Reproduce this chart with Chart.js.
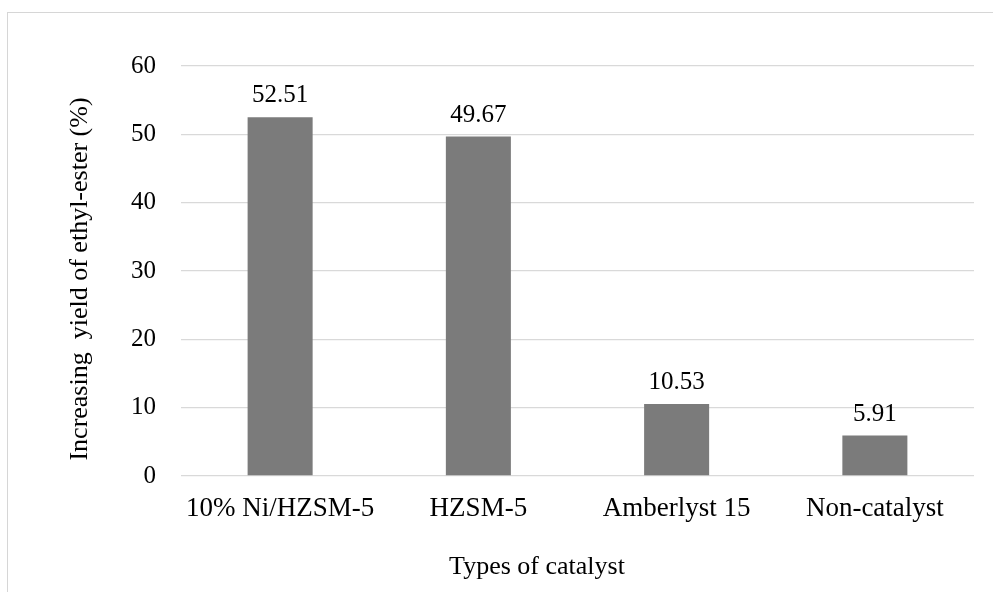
<!DOCTYPE html>
<html>
<head>
<meta charset="utf-8">
<script src="https://cdn.jsdelivr.net/npm/chart.js@4/dist/chart.umd.min.js"></script>
<style>
  html, body { margin: 0; padding: 0; background: #ffffff; }
  #wrap { position: relative; width: 993px; height: 592px; }
  #frame { position: absolute; left: 7px; top: 12px; width: 1000px; height: 600px;
           border: 1px solid #d6d6d6; box-sizing: border-box; }
  canvas { position: absolute; left: 0; top: 0; }
</style>
</head>
<body>
<div id="wrap">
  <div id="frame"></div>
  <canvas id="c" width="993" height="592"></canvas>
</div>
<script>
// Catalyst categories and the yield increase for each
const categories = ['10% Ni/HZSM-5', 'HZSM-5', 'Amberlyst 15', 'Non-catalyst'];
const yieldIncrease = [52.51, 49.67, 10.53, 5.91];
const yTicks = [0, 10, 20, 30, 40, 50, 60];

const yTitle = 'Increasing  yield of ethyl-ester (%)';
const xTitle = 'Types of catalyst';

const SERIF = '"Liberation Serif", "Times New Roman", serif';

// Value labels above each bar plus the two axis titles
const annotate = {
  id: 'annotate',
  afterDatasetsDraw(chart) {
    const ctx = chart.ctx;
    const meta = chart.getDatasetMeta(0);
    ctx.save();
    ctx.fillStyle = '#000';
    ctx.font = '25px ' + SERIF;
    ctx.textAlign = 'center';
    ctx.textBaseline = 'alphabetic';
    meta.data.forEach((bar, i) => {
      ctx.fillText(yieldIncrease[i].toFixed(2), bar.x, bar.y - 15);
    });

    ctx.font = '26px ' + SERIF;
    ctx.textBaseline = 'middle';
    ctx.fillText(xTitle, 537, 567);

    ctx.translate(80, 279);
    ctx.rotate(-Math.PI / 2);
    ctx.fillText(yTitle, 0, 0);
    ctx.restore();
  }
};

new Chart(document.getElementById('c'), {
  type: 'bar',
  data: {
    labels: categories,
    datasets: [{
      data: yieldIncrease,
      backgroundColor: '#7b7b7b',
      borderWidth: 0,
      barPercentage: 0.328,
      categoryPercentage: 1.0
    }]
  },
  options: {
    responsive: false,
    animation: false,
    devicePixelRatio: 1,
    layout: { padding: { top: 66, right: 19, left: 0, bottom: 0 } },
    plugins: {
      legend: { display: false },
      tooltip: { enabled: false }
    },
    scales: {
      x: {
        grid: { display: false, drawTicks: false },
        border: { display: false },
        ticks: {
          color: '#000',
          font: { family: SERIF, size: 27 },
          padding: 17,
          maxRotation: 0,
          autoSkip: false
        },
        afterFit(scale) { scale.height = 116; }
      },
      y: {
        min: 0,
        max: 60,
        afterBuildTicks(scale) { scale.ticks = yTicks.map(v => ({ value: v })); },
        grid: { color: '#d9d9d9', lineWidth: 1.3, drawTicks: false },
        border: { display: false },
        ticks: {
          color: '#000',
          font: { family: SERIF, size: 25 },
          padding: 25
        },
        afterFit(scale) { scale.width = 181; }
      }
    }
  },
  plugins: [annotate]
});
</script>
</body>
</html>
